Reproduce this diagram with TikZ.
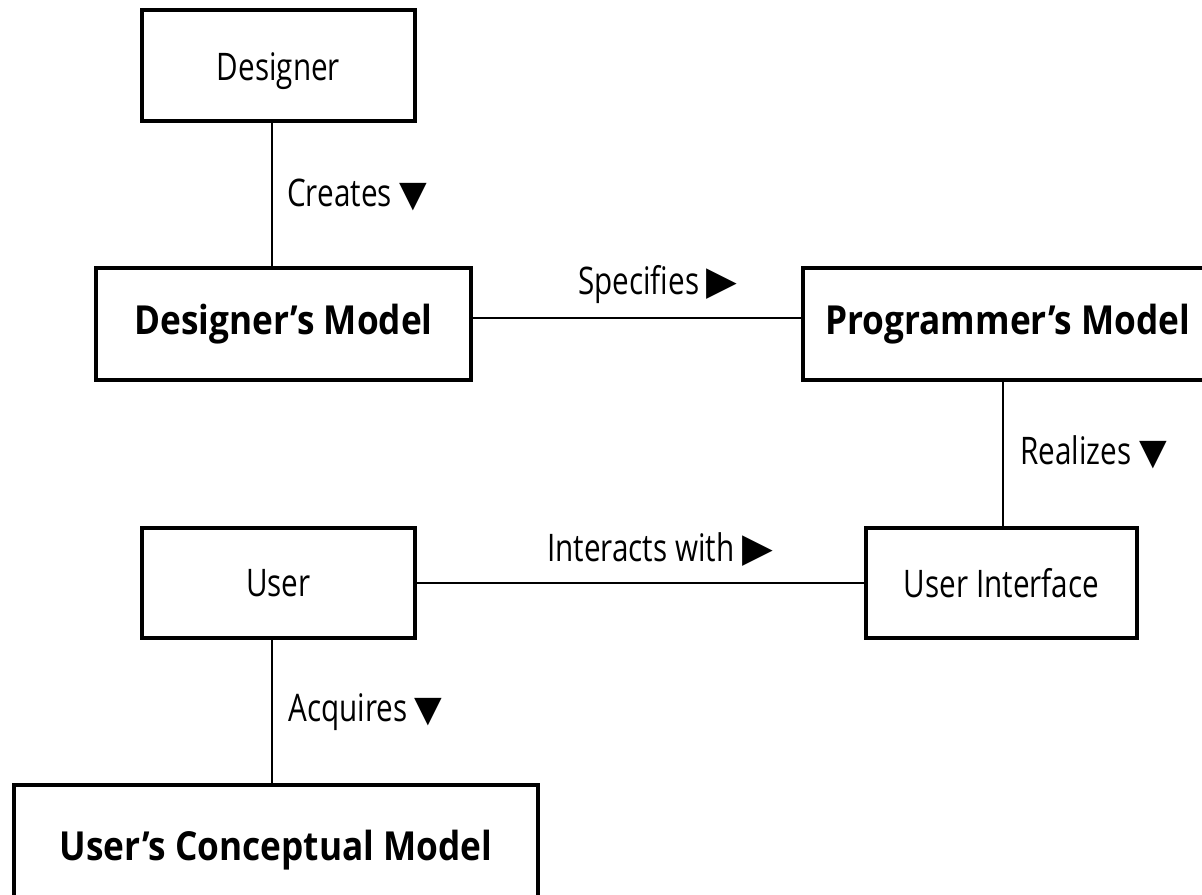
\documentclass[tikz,border=0pt]{standalone}
\usepackage{fontspec}
\setmainfont{Open Sans}
\newfontfamily\condfont{Open Sans}[FakeStretch=0.78]
\newfontfamily\boldfont{Open Sans Bold}[FakeStretch=0.88]
\newfontfamily\symfont{DejaVu Sans}
\newcommand{\dn}{{\symfont\fontsize{27}{27}\selectfont ▼}}
\newcommand{\rt}{{\symfont\fontsize{30}{30}\selectfont ▶}}
\begin{document}
\begin{tikzpicture}[x=0.75pt,y=-0.75pt,
  box/.style={draw=black,line width=3pt,fill=white,inner sep=0pt},
  plain/.style={box,font=\condfont\fontsize{28.5}{30}\selectfont},
  heavy/.style={box,font=\boldfont\fontsize{30}{32}\selectfont},
  conn/.style={draw=black,line width=1.1pt},
  lbl/.style={font=\condfont\fontsize{28.5}{30}\selectfont,inner sep=0pt,anchor=west}]
\useasboundingbox (0,0) rectangle (1202,894);
\node[plain,minimum width=273*0.75pt,minimum height=111*0.75pt] (designer) at (278.5,65.5) {\raisebox{-4pt}[\height][\depth]{Designer}};
\node[heavy,minimum width=375*0.75pt,minimum height=112*0.75pt] (dmodel) at (283.5,324) {Designer’s Model};
\node[heavy,minimum width=407*0.75pt,minimum height=112*0.75pt] (pmodel) at (1006.5,324) {\hspace*{2pt}Programmer’s Model};
\node[plain,minimum width=273*0.75pt,minimum height=110*0.75pt] (user) at (278.5,583) {User};
\node[plain,minimum width=271*0.75pt,minimum height=110*0.75pt] (ui) at (1001.5,583) {User Interface};
\node[heavy,minimum width=524*0.75pt,minimum height=130*0.75pt] (ucm) at (276,850) {\raisebox{-12pt}{User’s Conceptual Model}};
\coordinate (c1) at (272,0);
\draw[conn] (designer.south -| c1) -- (dmodel.north -| c1);
\draw[conn] (dmodel.east |- 0,318) -- (pmodel.west |- 0,318);
\coordinate (c2) at (1003,0);
\draw[conn] (pmodel.south -| c2) -- (ui.north -| c2);
\draw[conn] (user.east) -- (ui.west);
\draw[conn] (user.south -| c1) -- (ucm.north -| c1);
\node[lbl] (l1) at (287,195) {Creates \dn};
\node[lbl] (l2) at (578,285) {Specifies \rt};
\node[lbl] (l3) at (1020,452) {Realizes \dn};
\node[lbl] (l4) at (547,550) {Interacts with \rt};
\node[lbl] (l5) at (288,712) {Acquires \dn};
\end{tikzpicture}
\end{document}
